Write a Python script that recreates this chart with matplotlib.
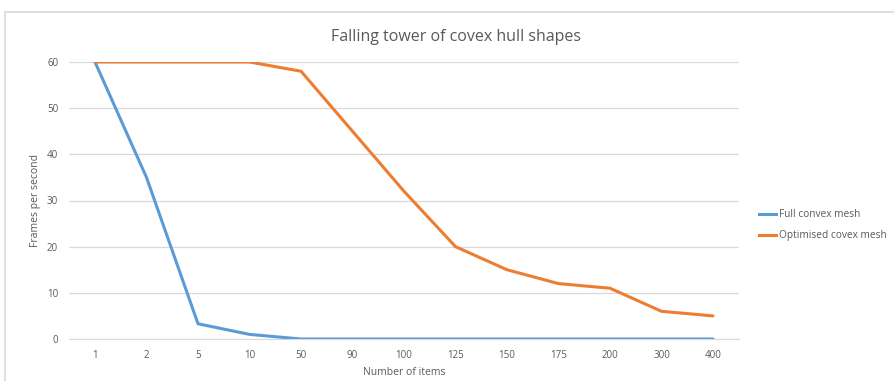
import matplotlib
matplotlib.use("Agg")
import matplotlib.pyplot as plt
from matplotlib.patches import Rectangle
from matplotlib.lines import Line2D

categories = ["1", "2", "5", "10", "50", "90", "100", "125", "150", "175", "200", "300", "400"]
full_convex = [60, 35, 3.3, 1, 0, 0, 0, 0, 0, 0, 0, 0, 0]
optimised = [60, 60, 60, 60, 58, 45, 32, 20, 15, 12, 11, 6, 5]

plt.rcParams['font.family'] = ['Open Sans', 'DejaVu Sans']
gray = '#595959'
blue = '#5B9BD5'
orange = '#ED7D31'

fig = plt.figure(figsize=(8.95, 3.81), dpi=100)
fig.patches.append(Rectangle((5/895, -0.1), 1.0, 1 - 12/381 + 0.1, transform=fig.transFigure,
                             fill=False, edgecolor='#d9d9d9', linewidth=1.2))
ax = fig.add_axes([69.25/895, 1 - 339/381, 669.5/895, (339 - 62)/381])
x = list(range(len(categories)))
ax.plot(x, full_convex, color=blue, linewidth=2.2, solid_capstyle='round', label='Full convex mesh')
ax.plot(x, optimised, color=orange, linewidth=2.2, solid_capstyle='round', label='Optimised covex mesh')
ax.set_xlim(-0.5, len(categories) - 0.5)
ax.set_ylim(0, 60)
ax.set_yticks(range(0, 61, 10))
ax.set_xticks(x)
ax.set_xticklabels(categories)
ax.grid(axis='y', color='#d9d9d9', linewidth=0.9)
ax.set_axisbelow(True)
for s in ['top', 'right', 'left']:
    ax.spines[s].set_visible(False)
ax.spines['bottom'].set_color('#d9d9d9')
ax.tick_params(length=0, labelsize=7, colors=gray, pad=8)
ax.set_xlabel('Number of items', fontsize=7.5, color=gray, labelpad=4)
ax.set_ylabel('Frames per second', fontsize=7.5, color=gray, labelpad=4)
fig.text(0.51, 1 - 37/381, 'Falling tower of covex hull shapes', ha='center', va='center',
         fontsize=11.5, color=gray)

handles = [Line2D([], [], color=blue, linewidth=2.2), Line2D([], [], color=orange, linewidth=2.2)]
leg = fig.legend(handles, ['Full convex mesh', 'Optimised covex mesh'], loc='upper left',
                 bbox_to_anchor=(750/895, 1 - 200/381), frameon=False, fontsize=7.3,
                 handlelength=1.7, handletextpad=0.25, labelspacing=1.0, labelcolor=gray)
fig.savefig('out.png', dpi=100)
